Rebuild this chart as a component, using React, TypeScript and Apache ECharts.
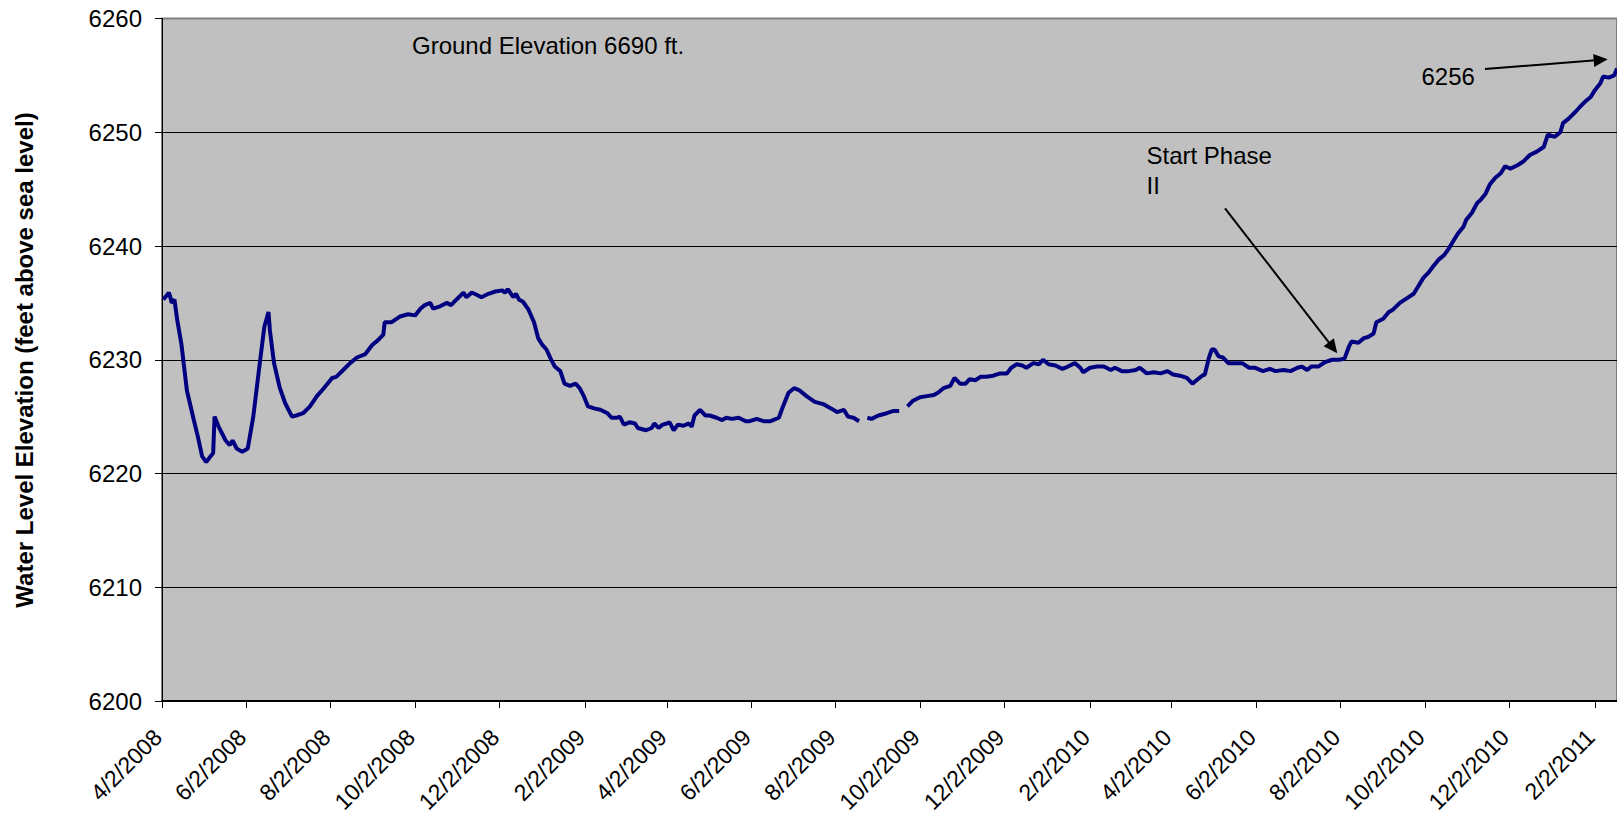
import React, { useEffect, useRef } from "react";
import * as echarts from "echarts";

// Tick labels on the date axis (every two months)
const tickLabels = [
  "4/2/2008", "6/2/2008", "8/2/2008", "10/2/2008", "12/2/2008",
  "2/2/2009", "4/2/2009", "6/2/2009", "8/2/2009", "10/2/2009", "12/2/2009",
  "2/2/2010", "4/2/2010", "6/2/2010", "8/2/2010", "10/2/2010", "12/2/2010",
  "2/2/2011",
];

// Days since 4/2/2008 of each reading
const days = [
  1, 5, 6, 7, 9, 11, 14, 18, 23, 26, 29, 32, 35, 37, 38, 41, 46, 49, 51, 54, 58, 62, 66, 71, 74, 77, 78, 81, 85, 89,
  94, 97, 102, 107, 112, 117, 123, 126, 131, 136, 141, 147, 152, 156, 160, 161, 166, 172, 178, 183, 187, 190, 194, 196, 201, 206,
  209, 213, 218, 220, 224, 226, 231, 236, 241, 246, 248, 250, 254, 256, 258, 261, 265, 269, 272, 275, 278, 281, 284, 288,
  291, 295, 299, 302, 305, 308, 313, 317, 322, 325, 329, 331, 334, 338, 342, 344, 350, 354, 356, 359, 362, 365, 367, 370,
  373, 377, 381, 383, 385, 389, 393, 396, 401, 405, 408, 412, 417, 422, 425, 430, 435, 440, 446, 449, 453, 457, 461, 466,
  472, 478, 484, 488, 493, 496, 500, 504, 507,
  510, 513, 518, 524, 529, 533, 535,
  539, 543, 548, 553, 558, 561, 565, 570, 573, 577, 581, 584, 588, 592, 596, 601, 606, 611, 614, 618, 622, 625, 630, 634,
  637, 641, 646, 651, 655, 660, 664, 666, 671, 676, 681, 686, 689, 694, 699, 704, 707, 712, 717, 722, 727, 731, 736, 741,
  745, 748, 752, 754, 757, 759, 761, 764, 767, 771, 776, 781, 786, 790, 796, 801, 805, 811, 816, 821, 824, 828, 831, 836,
  841, 846, 851, 855, 858, 860, 865, 869, 872, 876, 878, 883, 887, 890, 895, 900, 905, 908, 912, 916, 919, 923, 927, 930,
  934, 937, 941, 943, 947, 951, 953, 957, 960, 964, 968, 971, 975, 980, 984, 989, 994, 999, 1002, 1007, 1011, 1013, 1017,
  1022, 1025, 1029, 1033, 1036, 1040, 1042, 1046, 1050, 1052,
];

// Water level elevation (feet above sea level); null = missing reading
const levels = [
  6235.3, 6235.9, 6235.5, 6235.0, 6235.3, 6233.5, 6231.4, 6227.3, 6224.7, 6223.2, 6221.5, 6221.0, 6221.5, 6221.8, 6225.0, 6224.1,
  6222.9, 6222.5, 6222.9, 6222.2, 6221.9, 6222.2, 6225.0, 6230.0, 6232.9, 6234.2, 6232.6, 6229.7, 6227.6, 6226.2,
  6225.0, 6225.1, 6225.3, 6225.9, 6226.8, 6227.5, 6228.4, 6228.5, 6229.1, 6229.7, 6230.2, 6230.5, 6231.3, 6231.7, 6232.2, 6233.3,
  6233.3, 6233.8, 6234.0, 6233.9, 6234.5, 6234.8, 6235.0, 6234.5, 6234.7, 6235.0,
  6234.8, 6235.3, 6235.9, 6235.5, 6235.9, 6235.8, 6235.5, 6235.8, 6236.0, 6236.1, 6235.9, 6236.2, 6235.5, 6235.8, 6235.3, 6235.1,
  6234.4, 6233.3, 6231.9, 6231.3, 6230.9, 6230.1, 6229.4, 6229.0,
  6227.9, 6227.7, 6227.9, 6227.5, 6226.8, 6225.9, 6225.7, 6225.6, 6225.3, 6224.9, 6224.9, 6225.0, 6224.3, 6224.5, 6224.4, 6224.0,
  6223.8, 6224.0, 6224.4, 6224.0, 6224.3, 6224.4, 6224.5, 6223.8,
  6224.3, 6224.2, 6224.4, 6224.1, 6225.1, 6225.6, 6225.1, 6225.1, 6224.9, 6224.7, 6224.9, 6224.8, 6224.9, 6224.6, 6224.6, 6224.8,
  6224.6, 6224.6, 6224.9, 6225.9, 6227.1, 6227.5, 6227.3, 6226.8,
  6226.3, 6226.1, 6225.7, 6225.4, 6225.6, 6225.0, 6224.9, 6224.6, null,
  6224.9, 6224.8, 6225.1, 6225.3, 6225.5, 6225.5, null,
  6225.9, 6226.4, 6226.7, 6226.8, 6226.9, 6227.1, 6227.5, 6227.7, 6228.4, 6227.9, 6227.9, 6228.3, 6228.2, 6228.5, 6228.5, 6228.6,
  6228.8, 6228.8, 6229.3, 6229.6, 6229.5, 6229.3, 6229.7, 6229.6,
  6230.0, 6229.6, 6229.5, 6229.2, 6229.4, 6229.7, 6229.3, 6228.9, 6229.3, 6229.4, 6229.4, 6229.1, 6229.3, 6229.0, 6229.0, 6229.1,
  6229.3, 6228.8, 6228.9, 6228.8, 6229.0, 6228.7, 6228.6, 6228.4,
  6227.9, 6228.2, 6228.6, 6228.7, 6230.2, 6230.9, 6230.9, 6230.3, 6230.2, 6229.7, 6229.7, 6229.7, 6229.3, 6229.3, 6229.0, 6229.2,
  6229.0, 6229.1, 6229.0, 6229.3, 6229.4, 6229.1, 6229.4, 6229.4,
  6229.8, 6230.0, 6230.0, 6230.1, 6231.1, 6231.6, 6231.5, 6231.9, 6232.0, 6232.3, 6233.3, 6233.6, 6234.2, 6234.4, 6235.0, 6235.4,
  6235.8, 6236.4, 6237.2, 6237.7, 6238.2, 6238.8, 6239.2, 6239.7,
  6240.5, 6241.1, 6241.7, 6242.3, 6242.9, 6243.8, 6244.0, 6244.6, 6245.4, 6246.0, 6246.4, 6247.0, 6246.8, 6247.1, 6247.4, 6248.0,
  6248.3, 6248.7, 6249.8, 6249.6, 6250.0, 6250.8, 6251.2,
  6251.8, 6252.2, 6252.7, 6253.1, 6253.7, 6254.3, 6254.9, 6254.8, 6255.0, 6255.6,
];

const yMin = 6200;
const yMax = 6260;
const yStep = 10;
const xMaxDay = 1052;

const FONT = "'Liberation Sans', Arial, Helvetica, sans-serif";

function dayOf(label: string): number {
  const [m, d, y] = label.split("/").map(Number);
  return Math.round((Date.UTC(y, m - 1, d) - Date.UTC(2008, 3, 2)) / 86400000);
}

export default function App() {
  const ref = useRef<HTMLDivElement>(null);

  useEffect(() => {
    if (!ref.current) return;
    const chart = echarts.init(ref.current, null, { renderer: "svg" });
    const tickDays = tickLabels.map(dayOf);
    const labelByDay: Record<number, string> = {};
    tickDays.forEach((d, i) => (labelByDay[d] = tickLabels[i]));
    const seriesData = days.map((d, i) => [d, levels[i] === null ? "-" : levels[i]]);

    const arrow = (x1: number, y1: number, x2: number, y2: number) => {
      const dx = x2 - x1;
      const dy = y2 - y1;
      const len = Math.sqrt(dx * dx + dy * dy);
      const ux = dx / len;
      const uy = dy / len;
      const hl = 14;
      const hw = 6.5;
      const bx = x2 - ux * hl;
      const by = y2 - uy * hl;
      return [
        {
          type: "line",
          shape: { x1, y1, x2: bx + ux * 2, y2: by + uy * 2 },
          style: { stroke: "#000", lineWidth: 2 },
          z: 100,
        },
        {
          type: "polygon",
          shape: {
            points: [
              [x2, y2],
              [bx - uy * hw, by + ux * hw],
              [bx + uy * hw, by - ux * hw],
            ],
          },
          style: { fill: "#000" },
          z: 100,
        },
      ];
    };

    chart.setOption({
      animation: false,
      grid: {
        left: 162,
        top: 18.5,
        right: 0,
        bottom: 118,
        show: true,
        containLabel: false,
        outerBoundsMode: "none",
        backgroundColor: "#C0C0C0",
        borderColor: "#808080",
        borderWidth: 2,
      },
      xAxis: {
        type: "value",
        min: 0,
        max: xMaxDay,
        axisLine: { show: true, onZero: false, lineStyle: { color: "#000", width: 2 } },
        axisTick: {
          show: true,
          length: 7,
          customValues: tickDays,
          lineStyle: { color: "#000", width: 1 },
        },
        axisLabel: {
          customValues: tickDays,
          rotate: 45,
          margin: 28,
          padding: [0, 6, 0, 0],
          color: "#000",
          fontSize: 23,
          fontFamily: FONT,
          formatter: (v: number) => labelByDay[Math.round(v)] ?? "",
        },
        splitLine: { show: false },
      },
      yAxis: {
        type: "value",
        min: yMin,
        max: yMax,
        interval: yStep,
        axisLine: { show: true, lineStyle: { color: "#000", width: 1 } },
        axisTick: { show: true, length: 7, lineStyle: { color: "#000" } },
        axisLabel: {
          margin: 20,
          color: "#000",
          fontSize: 24,
          fontFamily: FONT,
          formatter: (v: number) => String(v),
        },
        splitLine: {
          show: true,
          showMaxLine: false,
          lineStyle: { color: "#000", width: 1 },
        },
      },
      series: [
        {
          type: "line",
          data: seriesData,
          showSymbol: false,
          connectNulls: false,
          lineStyle: { color: "#000080", width: 4 },
          itemStyle: { color: "#000080" },
          z: 3,
        },
      ],
      graphic: [
        {
          type: "text",
          x: 24,
          y: 360,
          rotation: Math.PI / 2,
          style: {
            text: "Water Level Elevation (feet above sea level)",
            font: `bold 24px ${FONT}`,
            fill: "#000",
            textAlign: "center",
            textVerticalAlign: "middle",
          },
        },
        {
          type: "text",
          x: 412,
          y: 45.5,
          style: {
            text: "Ground Elevation 6690 ft.",
            font: `24px ${FONT}`,
            fill: "#000",
            textAlign: "left",
            textVerticalAlign: "middle",
          },
          z: 100,
        },
        {
          type: "text",
          x: 1421.5,
          y: 76,
          style: {
            text: "6256",
            font: `24px ${FONT}`,
            fill: "#000",
            textAlign: "left",
            textVerticalAlign: "middle",
          },
          z: 100,
        },
        {
          type: "text",
          x: 1146.5,
          y: 155.5,
          style: {
            text: "Start Phase",
            font: `24px ${FONT}`,
            fill: "#000",
            textAlign: "left",
            textVerticalAlign: "middle",
          },
          z: 100,
        },
        {
          type: "text",
          x: 1146.5,
          y: 185,
          style: {
            text: "II",
            font: `24px ${FONT}`,
            fill: "#000",
            textAlign: "left",
            textVerticalAlign: "middle",
          },
          z: 100,
        },
        ...arrow(1225, 208.3, 1337.3, 353.3),
        ...arrow(1485, 69, 1607.7, 59.3),
      ],
    });

    return () => chart.dispose();
  }, []);

  return (
    <div
      ref={ref}
      style={{ position: "fixed", left: 0, top: 0, width: 1617, height: 819, background: "#fff" }}
    />
  );
}
